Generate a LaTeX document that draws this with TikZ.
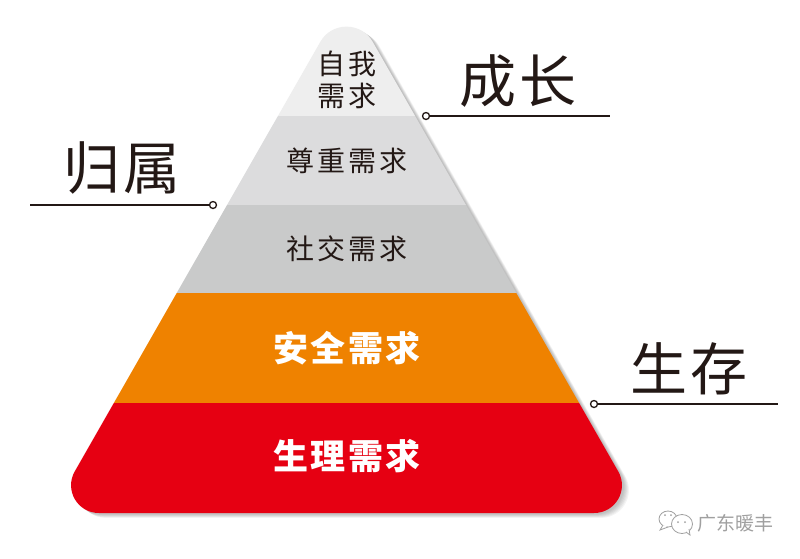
\documentclass[tikz,border=0pt]{standalone}
\usepackage{fontspec}
\newfontfamily\cjk{Noto Sans CJK SC}
\newfontfamily\cjkspaced[LetterSpace=10]{Noto Sans CJK SC}
\newfontfamily\cjkwhite[LetterSpace=7]{Noto Sans CJK SC}
\newfontfamily\cjkwide[LetterSpace=5]{Noto Sans CJK SC}
\definecolor{ink}{HTML}{231815}
\definecolor{lvA}{HTML}{EEEEEE}
\definecolor{lvB}{HTML}{DCDCDD}
\definecolor{lvC}{HTML}{C9CACA}
\definecolor{lvD}{HTML}{EF8200}
\definecolor{lvE}{HTML}{E60012}
\definecolor{wmgray}{HTML}{A0A0A0}
\tikzset{
  x=1pt,y=-1pt,
  band/.style={font=\cjkspaced\fontsize{28}{28}\selectfont,text=ink,inner sep=0pt},
  whiteband/.style={font=\cjkwhite\bfseries\fontsize{35}{35}\selectfont,text=white,inner sep=0pt},
  bigword/.style={font=\cjkwide\fontsize{57}{57}\selectfont,text=ink,inner sep=0pt},
  dotmark/.style={circle,draw=ink,fill=white,line width=1.3pt,minimum size=7pt,inner sep=0pt},
  leader/.style={draw=ink,line width=1.2pt},
  bubble/.style={draw=wmgray,fill=white,line width=.8pt},
}
\def\pyr{(99,513) .. controls (77.5,513) and (64.1,490) .. (74.8,471.3) -- (320.4,41.7) .. controls (331.9,21.6) and (361.1,21.6) .. (372.6,41.7) -- (618.2,471.3) .. controls (628.9,490) and (615.5,513) .. (594,513) -- cycle}
\begin{document}
\begin{tikzpicture}
\useasboundingbox (0,0) rectangle (800,558);
\fill[white] (0,0) rectangle (800,558);
% soft shadow
\foreach \d in {7,6,5,4,3,2}{
  \fill[black,opacity=.045,shift={(\d,\d*.7)}] \pyr;
}
\begin{scope}
\clip \pyr;
\fill[lvA] (0,0) rectangle (800,116);
\fill[lvB] (0,116) rectangle (800,205);
\fill[lvC] (0,205) rectangle (800,293);
\fill[lvD] (0,293) rectangle (800,403);
\fill[lvE] (0,403) rectangle (800,520);
\end{scope}
\node[band] (a1) at (347,64) {自我};
\node[band] (a2) at (347,96) {需求};
\node[band] (b) at (347,161) {尊重需求};
\node[band] (c) at (347,249) {社交需求};
\node[whiteband] (d) at (347,348) {安全需求};
\node[whiteband] (e) at (347,456) {生理需求};
\node[bigword] (w1) at (518,81) {成长};
\node[bigword] (w2) at (122,168) {归属};
\node[bigword] (w3) at (689,369) {生存};
\node[dotmark] (p1) at (426,116) {};
\coordinate (q1) at (610,116);
\draw[leader] (p1) -- (q1);
\node[dotmark] (p2) at (213,205) {};
\coordinate (q2) at (30,205);
\draw[leader] (p2) -- (q2);
\node[dotmark] (p3) at (594,404) {};
\coordinate (q3) at (778,404);
\draw[leader] (p3) -- (q3);
% watermark
\draw[bubble] (668,519) ellipse (9 and 8);
\draw[bubble] (663,525) -- (660,530) -- (668,527);
\draw[bubble] (682,524) ellipse (10.5 and 9.5);
\draw[bubble] (686,532) -- (690,535) -- (689,529);
\fill[wmgray] (665,515) circle (1) (671,515) circle (1) (678,522) circle (1) (685,522) circle (1);
\node[font=\cjk\fontsize{19}{19}\selectfont,text=wmgray,inner sep=0pt] (wm) at (735,523) {广东暖丰};
\end{tikzpicture}
\end{document}
